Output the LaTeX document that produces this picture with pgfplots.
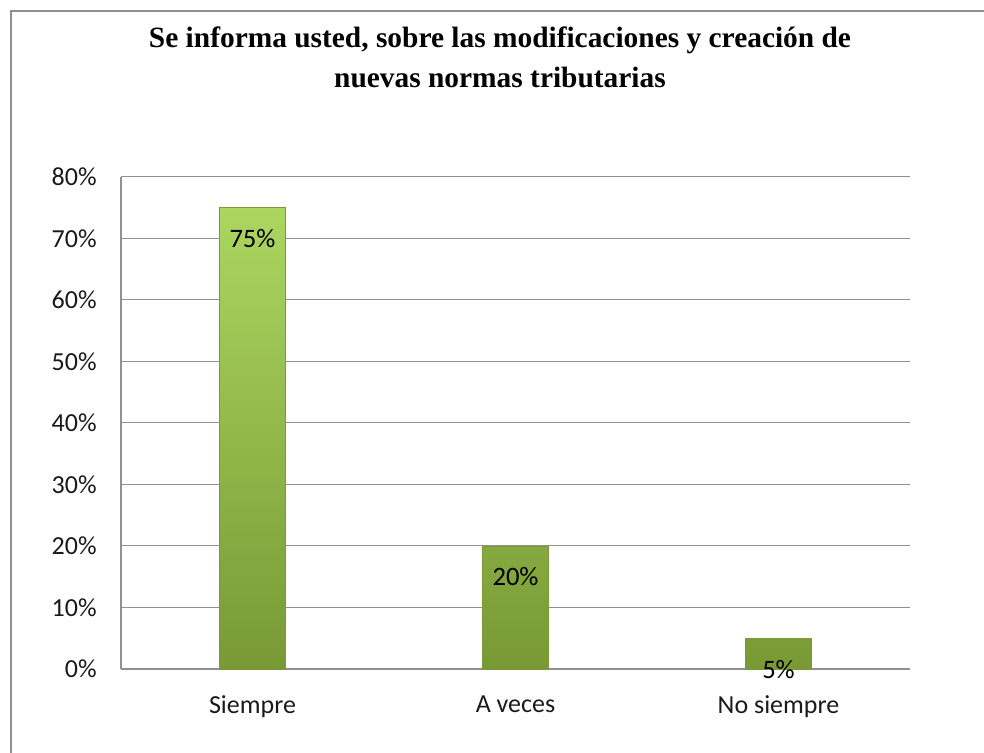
\documentclass[border=0pt]{standalone}
\usepackage{fontspec}
\setmainfont{Carlito}
\newfontfamily\titlefont{Liberation Serif}
\usepackage{pgfplots}
\pgfplotsset{compat=1.18}
\definecolor{barTop}{HTML}{ABD660}
\definecolor{barBot}{HTML}{789934}
\definecolor{barEdge}{HTML}{7A9A36}
\definecolor{gridGray}{HTML}{909090}
\definecolor{frameGray}{HTML}{8E8E8E}
\definecolor{textGray}{HTML}{1A1A1A}

\begin{document}
\begin{tikzpicture}
\useasboundingbox (0,0) rectangle (492pt,376.5pt);
\draw[frameGray,line width=1.2pt] (5.5pt,-2pt) -- (5.5pt,371pt) -- (494pt,371pt);
\node[font=\titlefont\bfseries\fontsize{14.7}{20}\selectfont,align=center]
  at (250pt,348pt) {Se informa usted, sobre las modificaciones y creación de\\nuevas normas tributarias};
\begin{axis}[
  at={(60.5pt,42pt)},anchor=south west,
  scale only axis,width=394.5pt,height=246pt,
  ymin=0,ymax=80,ytick={0,10,...,80},
  yticklabel={\pgfmathprintnumber{\tick}\%},
  /pgf/number format/assume math mode=true,
  xmin=-0.5,xmax=2.5,xtick={0,1,2},
  xticklabels={Siempre,A veces,No siempre},
  axis x line*=bottom,axis y line*=left,
  axis line style={gridGray,-,line width=0.6pt},
  ymajorgrids,grid style={gridGray,line width=0.5pt},
  major tick length=0pt,tick style={draw=none},
  yticklabel style={font=\fontsize{13}{15}\selectfont,text=textGray,inner sep=0pt,anchor=east,xshift=-12pt},
  xticklabel style={font=\fontsize{13}{15}\selectfont,text=textGray,inner sep=0pt,anchor=north,yshift=-13pt},
  clip=false]
\addplot[ybar,bar width=33pt,top color=barTop,bottom color=barBot,draw=barEdge,line width=0.3pt,
  nodes near coords={\pgfmathprintnumber{\pgfplotspointmeta}\%},
  every node near coord/.append style={anchor=center,yshift=-15.5pt,font=\fontsize{13.3}{15}\selectfont,text=black}]
  coordinates {(0,75) (1,20) (2,5)};
\end{axis}
\end{tikzpicture}
\end{document}
